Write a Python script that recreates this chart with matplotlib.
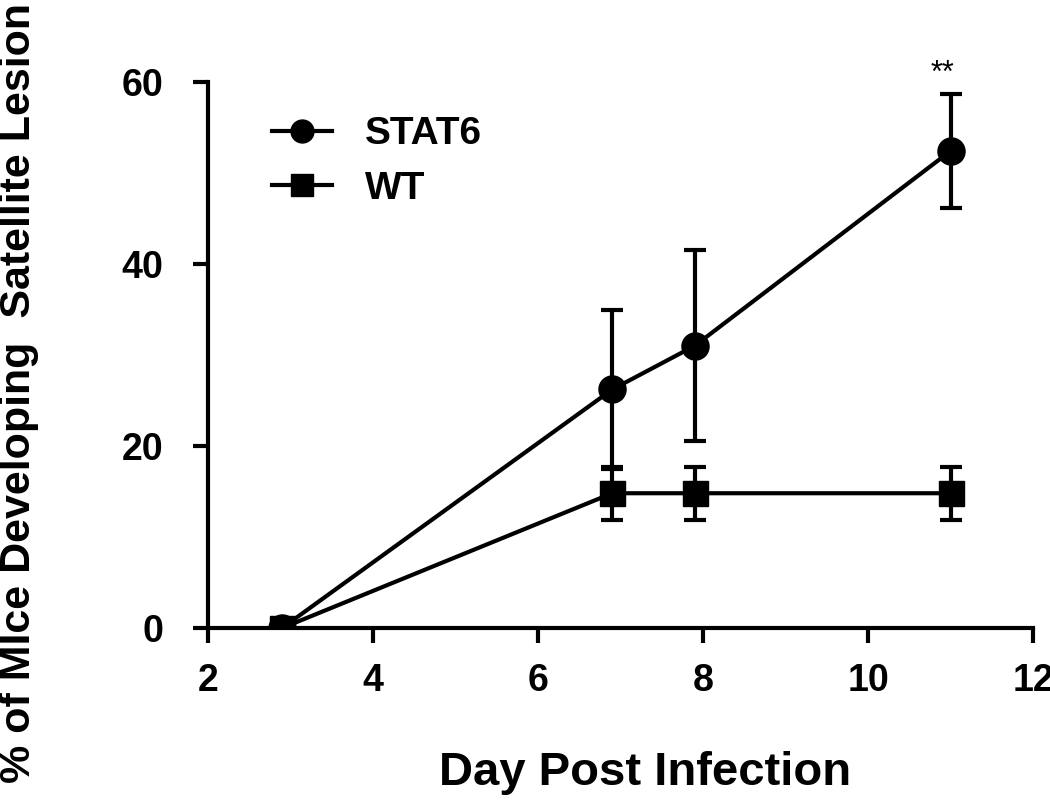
import matplotlib
matplotlib.use("Agg")
import matplotlib.pyplot as plt
from matplotlib.lines import Line2D

plt.rcParams['font.family'] = ['Liberation Sans', 'DejaVu Sans']
plt.rcParams['font.weight'] = 'bold'

days_stat6 = [2.9, 6.9, 7.9, 11.0]
stat6 = [0.0, 26.2, 31.0, 52.4]
stat6_err = [0.0, 8.7, 10.5, 6.3]

days_wt = [2.9, 6.9, 7.9, 11.0]
wt = [0.0, 14.8, 14.8, 14.8]
wt_err = [0.0, 2.9, 2.9, 2.9]

xticks = [2, 4, 6, 8, 10, 12]
yticks = [0, 20, 40, 60]

fig = plt.figure(figsize=(10.5, 8.01), dpi=100)
ax = fig.add_axes([0.198, 0.216, 0.786, 0.682])

ax.errorbar(days_stat6, stat6, yerr=stat6_err, color='black', marker='o',
            markersize=19.5, linewidth=3, elinewidth=3, capsize=8, capthick=3,
            zorder=3)
ax.errorbar(days_wt, wt, yerr=wt_err, color='black', marker='s',
            markersize=18, linewidth=3, elinewidth=3, capsize=8, capthick=3,
            zorder=4)

ax.text(10.9, 60.9, '**', ha='center', va='center', fontsize=22,
        fontweight='normal')

ax.set_xlim(2, 12)
ax.set_ylim(0, 60)
ax.set_xticks(xticks)
ax.set_yticks(yticks)
ax.tick_params(axis='both', direction='out', length=11, width=3, labelsize=27)
ax.tick_params(axis='x', pad=14)
ax.tick_params(axis='y', pad=21)
for lab in ax.get_xticklabels() + ax.get_yticklabels():
    lab.set_fontweight('bold')

for s in ['top', 'right']:
    ax.spines[s].set_visible(False)
for s in ['left', 'bottom']:
    ax.spines[s].set_linewidth(3)

ax.set_xlabel('Day Post Infection', fontsize=34, fontweight='bold')
ax.xaxis.set_label_coords(0.53, -0.225)

fig.text(19 / 1050, 1 - 393 / 801, '% of MIce Developing  Satellite Lesion',
         rotation=90, ha='center', va='center', fontsize=31, fontweight='bold')

handles = [
    Line2D([], [], color='black', marker='o', markersize=16.5, linewidth=3),
    Line2D([], [], color='black', marker='s', markersize=16.5, linewidth=3),
]
leg = ax.legend(handles, ['STAT6', 'WT'], loc='upper left',
                bbox_to_anchor=(0.0776, 0.937), frameon=False,
                fontsize=28, handlelength=1.54, handletextpad=0.85,
                labelspacing=0.48, borderaxespad=0, borderpad=0)
for t in leg.get_texts():
    t.set_fontweight('bold')

fig.savefig('out.png', dpi=100)
